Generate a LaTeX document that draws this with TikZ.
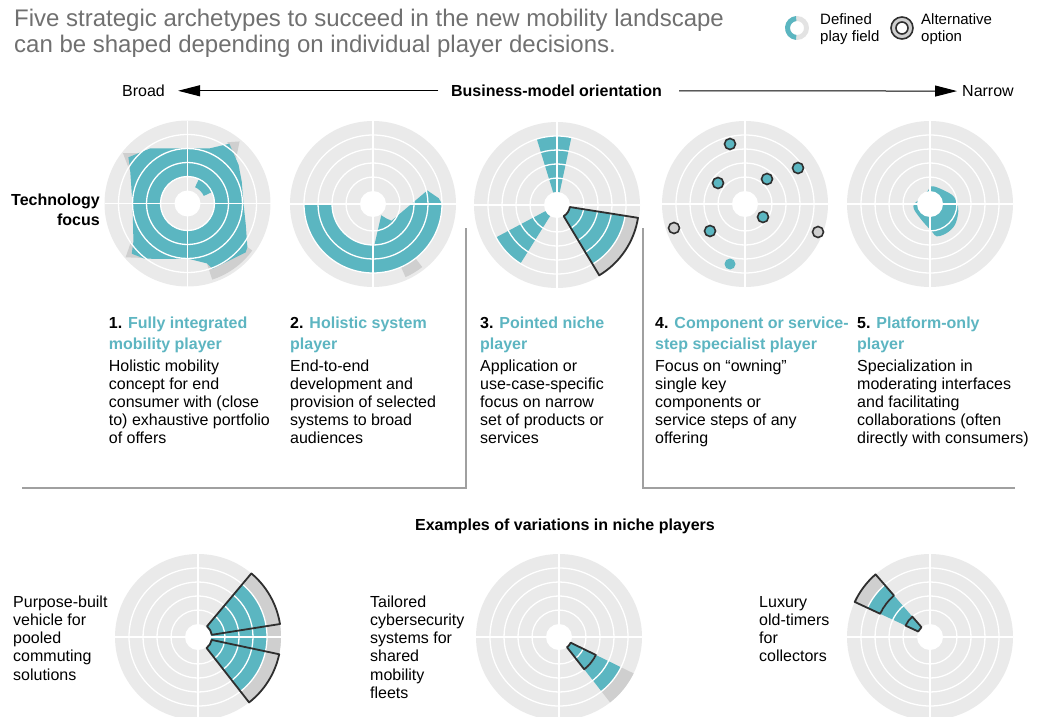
\documentclass[tikz,border=0pt]{standalone}
\usepackage{fontspec}
\setmainfont{Liberation Sans}
\usetikzlibrary{arrows.meta}
\definecolor{tl}{HTML}{5BB6C1}
\definecolor{tltext}{HTML}{5DB5C1}
\definecolor{bgc}{HTML}{EAEAEA}
\definecolor{altc}{HTML}{CFCFCF}
\definecolor{outl}{HTML}{2F2F2F}
\definecolor{ttlgray}{HTML}{707070}
\definecolor{sepc}{HTML}{A0A0A0}
\definecolor{pale}{HTML}{E3E3E3}
\newcommand{\annfill}[5]{\fill[#1] (#2:#4) arc[start angle=#2,end angle=#3,radius=#4] -- (#3:#5) arc[start angle=#3,end angle=#2,radius=#5] -- cycle;}
\newcommand{\anndraw}[5]{\draw[#1] (#2:#4) arc[start angle=#2,end angle=#3,radius=#4] -- (#3:#5) arc[start angle=#3,end angle=#2,radius=#5] -- cycle;}
\newcommand{\cbase}{\fill[bgc] (0,0) circle (83);}
\newcommand{\cgrid}{\foreach \rr in {27,41,55,69}{\draw[gridw] (0,0) circle (\rr);}\draw[gridw] (-83,0) -- (83,0) (0,-83) -- (0,83);\fill[white] (0,0) circle (13);}
\newcommand{\ttlblk}[1]{\parbox[t]{220pt}{\fontsize{16}{21}\selectfont\bfseries\raggedright\color{tltext}#1}}
\newcommand{\bodyblk}[1]{\parbox[t]{220pt}{\fontsize{16}{18}\selectfont\raggedright #1}}
\tikzset{
 txt/.style={anchor=base west, inner sep=0pt},
 hdr/.style={line width=1pt, -{Triangle[length=22pt,width=11pt]}},
 gridw/.style={draw=white, line width=1.3pt},
 outln/.style={draw=outl, line width=1.8pt, line join=round},
 sepline/.style={draw=sepc, line width=1.4pt},
 dotc/.style={fill=tl, draw=outl, line width=1.6pt},
 dotg/.style={fill=altc, draw=outl, line width=1.6pt},
 circ/.style={shift={#1}, yscale=-1},
}
\begin{document}
\begin{tikzpicture}[x=1pt,y=-1pt]
\useasboundingbox (0,0) rectangle (1041,717);
% ---------- heading ----------
\node[txt, text=ttlgray] (title) at (14,26.5) {\parbox[t]{760pt}{\fontsize{24}{26}\selectfont\raggedright Five strategic archetypes to succeed in the new mobility landscape\\can be shaped depending on individual player decisions.}};
% legend
\begin{scope}[circ={(797,28)}]
 \fill[pale, even odd rule] (0,0) circle (12) (0,0) circle (7);
 \annfill{tl}{95}{265}{7}{12}
\end{scope}
\node[txt] (lgdef) at (820,25) {\parbox[t]{80pt}{\fontsize{15}{16.7}\selectfont\raggedright Defined\\play field}};
\begin{scope}[circ={(902,28)}]
 \fill[altc, even odd rule] (0,0) circle (11) (0,0) circle (6);
 \draw[outl, line width=1.6pt] (0,0) circle (11) (0,0) circle (6);
\end{scope}
\node[txt] (lgalt) at (921,25) {\parbox[t]{90pt}{\fontsize{15}{16.7}\selectfont\raggedright Alternative\\option}};
% axis
\node[txt, font=\fontsize{16}{18}\selectfont] (broad) at (122,96.5) {Broad};
\node[anchor=base, inner sep=0pt, font=\fontsize{16}{18}\selectfont\bfseries] (bmo) at (556.5,96.5) {Business-model orientation};
\node[txt, font=\fontsize{16}{18}\selectfont] (narrow) at (962,96.5) {Narrow};
\draw[hdr, shorten <=12.5pt, shorten >=13pt] (bmo.west) -- (broad.east);
\draw[hdr, shorten <=17pt, shorten >=5pt] (bmo.east) -- (narrow.west);
\node[anchor=base east, inner sep=0pt] (techf) at (100,205.5) {\parbox[t]{120pt}{\fontsize{16}{20}\selectfont\bfseries\raggedleft Technology\\focus}};
% ---------- circle 1 ----------
\begin{scope}[circ={(187.5,203.5)}]
 \cbase
 \fill[altc] (40:62) -- (50:81) -- (57:73) -- cycle;
 \fill[altc] (134:70) -- (142:82) -- (150:67) -- cycle;
 \fill[altc] (214:68) -- (221:82) -- (230:71) -- cycle;
 \annfill{altc}{-72}{-36}{60}{80}
 \fill[tl] (0:56) -- (22:58.5) -- (37:64) -- (55:73) -- (68:59.5) -- (90:55) -- (124:66.5) -- (142:75) -- (149:67) -- (180:55) -- (215:66) -- (222:75) -- (232:70) -- (250:59) -- (270:55) -- (288:63) -- (291:70) -- (320:76) -- (324:74) -- (340:62) -- cycle;
 \fill[bgc] (0,0) circle (27);
 \annfill{tl}{25}{65}{18}{27}
 \cgrid
\end{scope}
% ---------- circle 2 ----------
\begin{scope}[circ={(373,204)}]
 \cbase
 \annfill{altc}{-66}{-52}{66}{80}
 \fill[tl] (180:69) arc[start angle=180, end angle=360, radius=69] -- (5:66) -- (14:56) -- (-42:25) -- (-47:20) -- (-54:14) -- (-88:41) arc[start angle=-88, end angle=-180, radius=41] -- cycle;
 \cgrid
\end{scope}
% ---------- circle 3 ----------
\begin{scope}[circ={(557,205)}]
 \cbase
 \annfill{tl}{78}{107}{13}{69}
 \annfill{tl}{208}{238}{13}{69}
 \annfill{tl}{-59}{-9}{13}{69}
 \annfill{altc}{-59}{-9}{69}{82}
 \cgrid
 \anndraw{outln}{-59}{-9}{13}{82}
\end{scope}
% ---------- circle 4 ----------
\begin{scope}[circ={(745,204)}]
 \cbase
 \cgrid
 \foreach \dx/\dy in {-15/60, 53/36, -27/21, 22/25, 18/-13, -35/-27}{\filldraw[dotc] (\dx,\dy) circle (5.5);}
 \foreach \dx/\dy in {-71/-24, 73/-28}{\filldraw[dotg] (\dx,\dy) circle (5.5);}
 \fill[tl] (-15,-60) circle (5.5);
\end{scope}
% ---------- circle 5 ----------
\begin{scope}[circ={(930,204)}]
 \cbase
 \fill[tl] plot[smooth cycle, tension=0.6] coordinates {(3.3,17.7) (21.7,9.3) (26.7,1) (28.3,-7.3) (25,-20.7) (16.7,-29) (6.7,-32.3) (1.7,-27.3) (-10,-14) (-16.7,-2.3) (-9,6) (-2,13.5)};
 \cgrid
\end{scope}
% ---------- texts ----------
\node[txt] (t1) at (108.7,317) {\ttlblk{\textcolor{black}{1.} Fully integrated\\mobility player}};
\node[txt] (t2) at (290,317) {\ttlblk{\textcolor{black}{2.} Holistic system\\player}};
\node[txt] (t3) at (480,317) {\ttlblk{\textcolor{black}{3.} Pointed niche\\player}};
\node[txt] (t4) at (655,317) {\ttlblk{\textcolor{black}{4.} Component or service-\\step specialist player}};
\node[txt] (t5) at (857,317) {\ttlblk{\textcolor{black}{5.} Platform-only\\player}};
\node[txt] (b1) at (108.7,371.5) {\bodyblk{Holistic mobility\\concept for end\\consumer with (close\\to) exhaustive portfolio\\of offers}};
\node[txt] (b2) at (290,371.5) {\bodyblk{End-to-end\\development and\\provision of selected\\systems to broad\\audiences}};
\node[txt] (b3) at (480,371.5) {\bodyblk{Application or\\use-case-specific\\focus on narrow\\set of products or\\services}};
\node[txt] (b4) at (655,371.5) {\bodyblk{Focus on “owning”\\single key\\components or\\service steps of any\\offering}};
\node[txt] (b5) at (857,371.5) {\bodyblk{Specialization in\\moderating interfaces\\and facilitating\\collaborations (often\\directly with consumers)}};
% separators
\draw[sepline] (466,228) -- (466,488) -- (22,488);
\draw[sepline] (643,228) -- (643,488) -- (1015,488);
% ---------- examples ----------
\node[anchor=base, inner sep=0pt, font=\fontsize{16}{18}\selectfont\bfseries] (exh) at (565,530.5) {Examples of variations in niche players};
\node[txt] (ex1) at (13,607) {\parbox[t]{120pt}{\fontsize{16}{18.3}\selectfont\raggedright Purpose-built\\vehicle for\\pooled\\commuting\\solutions}};
\node[txt] (ex2) at (370,607) {\parbox[t]{120pt}{\fontsize{16}{18.3}\selectfont\raggedright Tailored\\cybersecurity\\systems for\\shared\\mobility\\fleets}};
\node[txt] (ex3) at (759,607) {\parbox[t]{120pt}{\fontsize{16}{18.3}\selectfont\raggedright Luxury\\old-timers\\for\\collectors}};
\begin{scope}[circ={(198,637)}]
 \cbase
 \annfill{tl}{-52}{50}{13}{69}
 \annfill{altc}{-52}{50}{69}{83}
 \cgrid
 \anndraw{outln}{9}{50}{14}{83}
 \anndraw{outln}{-52}{-12}{14}{83}
\end{scope}
\begin{scope}[circ={(559,637)}]
 \cbase
 \annfill{tl}{-52}{-26}{13}{69}
 \annfill{altc}{-52}{-26}{69}{83}
 \cgrid
 \anndraw{outln}{-52}{-26}{13}{41}
\end{scope}
\begin{scope}[circ={(930,637)}]
 \cbase
 \annfill{tl}{131}{155}{13}{69}
 \annfill{altc}{131}{155}{69}{83}
 \cgrid
 \anndraw{outln}{131}{155}{55}{83}
 \anndraw{outln}{131}{155}{13}{27}
\end{scope}
\end{tikzpicture}
\end{document}
